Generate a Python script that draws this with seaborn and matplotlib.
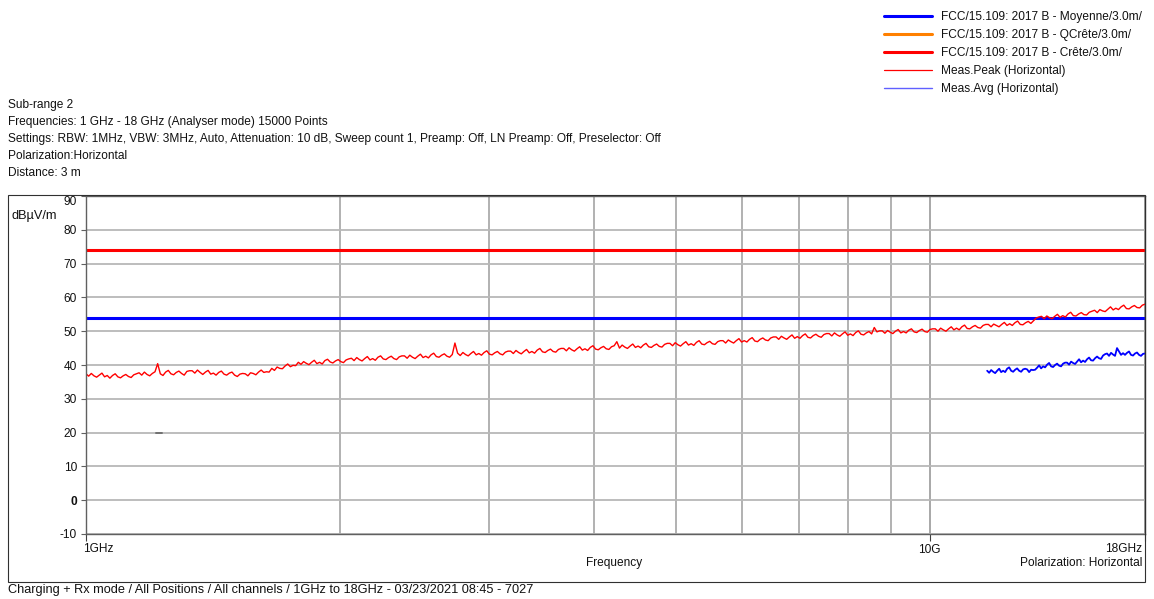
import numpy as np
import pandas as pd
import seaborn as sns
import matplotlib.pyplot as plt
from matplotlib.lines import Line2D
from matplotlib.patches import Rectangle
from matplotlib.ticker import LogLocator, NullFormatter

W, H = 1154, 599

# sweep / limits
f_start, f_stop = 1.0, 18.0      # GHz
avg_start = 11.7                 # GHz, where the average trace begins
peak_limit = 74.0                # dBuV/m, FCC 15.109 class B peak @3m
avg_limit = 54.0                 # dBuV/m, FCC 15.109 class B average @3m

# Meas.Peak (Horizontal), log spaced 1..18 GHz
peak_db = [
    37.4, 36.7, 37.5, 36.8, 36.4, 37.0, 37.6, 36.5, 36.9, 36.1,
    36.9, 37.4, 36.5, 36.2, 36.8, 37.2, 36.6, 36.3, 37.1, 37.4,
    37.7, 37.0, 37.9, 37.2, 36.8, 37.5, 38.0, 40.4, 37.4, 36.9,
    37.9, 38.4, 37.4, 37.1, 37.8, 38.2, 37.5, 37.0, 38.1, 38.3,
    38.3, 37.6, 38.5, 37.8, 37.2, 37.9, 38.4, 37.3, 37.6, 37.0,
    37.8, 38.2, 37.3, 37.0, 37.6, 37.9, 37.0, 36.6, 37.3, 37.5,
    37.4, 36.8, 37.7, 37.5, 37.1, 37.9, 38.5, 37.8, 38.0, 37.9,
    39.0, 38.4, 39.4, 39.0, 38.9, 39.7, 40.3, 39.5, 39.9, 39.8,
    40.8, 40.2, 41.0, 40.5, 40.1, 40.8, 41.4, 40.4, 40.8, 40.3,
    41.3, 41.7, 40.9, 40.6, 41.2, 41.6, 41.0, 40.7, 41.5, 41.8,
    42.0, 41.3, 42.2, 41.6, 41.2, 41.9, 42.5, 41.5, 41.9, 41.4,
    42.3, 42.7, 41.8, 41.6, 42.2, 42.6, 41.9, 41.6, 42.4, 42.7,
    42.7, 42.0, 42.9, 42.3, 41.9, 42.6, 43.2, 42.2, 42.6, 42.1,
    43.0, 43.5, 42.5, 42.3, 42.9, 43.3, 42.6, 42.3, 43.1, 46.5,
    43.5, 42.8, 43.7, 43.1, 42.7, 43.4, 44.0, 43.0, 43.4, 42.9,
    43.7, 44.2, 43.2, 43.0, 43.6, 44.0, 43.3, 43.0, 43.8, 44.1,
    44.1, 43.4, 44.3, 43.7, 43.3, 44.0, 44.6, 43.6, 44.0, 43.5,
    44.4, 44.9, 43.9, 43.7, 44.3, 44.7, 44.0, 43.8, 44.6, 44.9,
    44.9, 44.2, 45.1, 44.5, 44.1, 44.8, 45.4, 44.4, 44.8, 44.3,
    45.2, 45.7, 44.7, 44.5, 45.1, 45.5, 44.8, 44.6, 45.4, 45.7,
    46.9, 45.0, 45.9, 45.3, 44.9, 45.6, 46.2, 45.2, 45.6, 45.1,
    45.9, 46.4, 45.4, 45.2, 45.8, 46.2, 45.5, 45.3, 46.1, 46.4,
    46.4, 45.7, 46.6, 46.0, 45.6, 46.3, 46.9, 45.9, 46.3, 45.8,
    46.7, 47.2, 46.2, 46.0, 46.6, 47.0, 46.3, 46.1, 46.9, 47.2,
    47.2, 46.5, 47.4, 46.9, 46.5, 47.2, 47.8, 46.8, 47.2, 46.8,
    47.6, 48.1, 47.1, 46.9, 47.6, 48.0, 47.4, 47.2, 48.0, 48.3,
    48.3, 47.6, 48.5, 48.0, 47.6, 48.3, 48.9, 47.9, 48.4, 47.9,
    48.7, 49.2, 48.2, 48.0, 48.7, 49.1, 48.5, 48.2, 49.0, 49.3,
    49.3, 48.6, 49.5, 48.9, 48.5, 49.2, 49.8, 48.8, 49.2, 48.7,
    49.6, 50.1, 49.1, 48.9, 49.5, 49.9, 49.2, 51.1, 49.8, 50.1,
    50.1, 49.4, 50.2, 49.7, 49.3, 50.0, 50.5, 49.5, 49.9, 49.5,
    50.3, 50.7, 49.8, 49.6, 50.2, 50.6, 49.9, 49.7, 50.5, 50.7,
    50.7, 50.0, 50.9, 50.4, 50.0, 50.7, 51.3, 50.4, 50.9, 50.4,
    51.3, 51.8, 50.8, 50.7, 51.3, 51.7, 51.1, 50.9, 51.7, 52.0,
    52.0, 51.3, 52.1, 51.7, 51.3, 52.0, 52.6, 51.7, 52.2, 51.7,
    52.5, 53.0, 52.0, 51.9, 52.5, 52.9, 52.3, 53.1, 53.9, 54.2,
    54.4, 53.7, 54.5, 54.0, 53.7, 54.4, 55.0, 54.1, 54.6, 54.2,
    55.1, 55.6, 54.6, 54.5, 55.1, 55.5, 54.9, 54.8, 55.6, 55.9,
    56.2, 55.5, 56.4, 56.0, 55.8, 56.5, 57.2, 56.3, 56.8, 56.4,
    57.2, 57.7, 56.7, 56.6, 57.2, 57.6, 57.0, 56.9, 57.7, 58.0,
]

# Meas.Avg (Horizontal), log spaced 11.7..18 GHz
avg_db = [
    38.3, 37.7, 38.5, 38.0, 37.6, 38.3, 38.9, 37.9, 38.3, 37.9,
    38.9, 39.3, 38.3, 38.0, 38.6, 39.0, 38.3, 38.0, 38.7, 38.9,
    38.7, 37.9, 38.6, 38.5, 38.6, 39.2, 39.9, 39.0, 39.6, 39.3,
    40.1, 40.6, 39.6, 39.4, 40.0, 40.4, 39.8, 39.6, 40.4, 40.7,
    40.7, 40.1, 41.0, 40.6, 40.3, 41.0, 41.7, 40.8, 41.3, 40.9,
    41.7, 42.2, 41.4, 41.3, 42.0, 42.5, 42.0, 41.8, 42.8, 43.2,
    43.4, 42.7, 43.6, 43.1, 42.7, 45.0, 44.0, 43.0, 43.5, 43.0,
    43.6, 44.0, 43.0, 42.8, 43.4, 43.7, 43.0, 42.7, 43.3, 43.4,
]

# small grey marker on the 20 dB line
marker_freq = [1.21, 1.232]
marker_db = [20.0, 20.0]

peak_freq = np.geomspace(f_start, f_stop, len(peak_db))
avg_freq = np.geomspace(avg_start, f_stop, len(avg_db))
limits = pd.DataFrame({"freq": [f_start, f_stop],
                       "peak": [peak_limit] * 2,
                       "avg": [avg_limit] * 2})

sns.set_theme(style="white")
plt.rcParams["font.family"] = ["Liberation Sans", "DejaVu Sans"]
FS = 8.6
TXT = "#111111"

fig = plt.figure(figsize=(W / 100, H / 100), dpi=100)
ax = fig.add_axes([86 / W, 1 - 534 / H, (1145 - 86) / W, (534 - 196) / H])
ax.set_xscale("log")

sns.lineplot(data=limits, x="freq", y="avg", color="#0000ff", lw=2.2, ax=ax)
sns.lineplot(data=limits, x="freq", y="peak", color="#ff0000", lw=2.2, ax=ax)
sns.lineplot(x=peak_freq, y=peak_db, color="#ff0000", lw=1.0,
             estimator=None, sort=False, ax=ax)
sns.lineplot(x=avg_freq, y=avg_db, color="#0000ff", lw=1.3,
             estimator=None, sort=False, ax=ax)
sns.lineplot(x=marker_freq, y=marker_db, color="#707070", lw=1.4,
             estimator=None, ax=ax)

ax.set_xlim(f_start, f_stop)
ax.set_ylim(-10, 90)
ax.set_xlabel("")
ax.set_ylabel("")

ax.set_yticks(range(-10, 91, 10))
ax.set_yticklabels([str(v) for v in range(-10, 91, 10)], fontsize=FS, color=TXT)
for lab in ax.get_yticklabels():
    if lab.get_text() == "0":
        lab.set_fontweight("bold")
    if lab.get_text() == "90":
        lab.set_va("top")

# 1GHz and 18GHz are written as free text below, only 10G sits on its tick
ax.set_xticks([1, 10, 18])
ax.set_xticklabels(["", "10G", ""], fontsize=FS, color=TXT)
ax.xaxis.get_major_ticks()[2].tick1line.set_visible(False)
ax.xaxis.set_minor_locator(LogLocator(base=10, subs=range(2, 10)))
ax.xaxis.set_minor_formatter(NullFormatter())

ax.tick_params(axis="y", which="major", left=True, direction="out", length=3.6,
               width=0.8, color="#606060", pad=3)
ax.tick_params(axis="x", which="major", bottom=True, direction="out", length=5,
               width=0.8, color="#404040", pad=2)
ax.tick_params(axis="x", which="minor", bottom=False, length=0)

ax.grid(False)
ax.yaxis.grid(True, color="#b8b8b8", lw=1.3)
ax.xaxis.grid(True, which="major", color="#9a9a9a", lw=1.2)
ax.xaxis.grid(True, which="minor", color="#a4a4a4", lw=1.2)
ax.set_axisbelow(True)
for s in ax.spines.values():
    s.set_color("#606060")
    s.set_linewidth(1.0)

# outer frame round the chart
fig.add_artist(Rectangle((8 / W, 1 - 582 / H), (1145 - 8) / W, (582 - 195) / H,
                         transform=fig.transFigure, fill=False, ec="#303030", lw=0.8))


def ft(x, y, s, size=FS, **kw):
    fig.text(x / W, 1 - y / H, s, fontsize=size, color=TXT, va="center", **kw)


header = [
    "Sub-range 2",
    "Frequencies: 1 GHz - 18 GHz (Analyser mode) 15000 Points",
    "Settings: RBW: 1MHz, VBW: 3MHz, Auto, Attenuation: 10 dB, Sweep count 1, "
    "Preamp: Off, LN Preamp: Off, Preselector: Off",
    "Polarization:Horizontal",
    "Distance: 3 m",
]
for y, s in zip([105, 122, 139, 156, 173], header):
    ft(8, y, s)

ft(11, 216, "dBµV/m", size=9.2)
ft(83, 549, "1GHz")
ft(1142, 549, "18GHz", ha="right")
ft(614, 563, "Frequency", ha="center")
ft(1142, 563, "Polarization: Horizontal", ha="right")
ft(8, 590, "Charging + Rx mode / All Positions / All channels / 1GHz to 18GHz - "
           "03/23/2021 08:45 - 7027", size=9.2)

handles = [
    Line2D([], [], color="#0000ff", lw=2.2),
    Line2D([], [], color="#ff8000", lw=2.2),
    Line2D([], [], color="#ff0000", lw=2.2),
    Line2D([], [], color="#ff0000", lw=0.9),
    Line2D([], [], color="#6060ff", lw=1.0),
]
labels = [
    "FCC/15.109: 2017 B - Moyenne/3.0m/",
    "FCC/15.109: 2017 B - QCrête/3.0m/",
    "FCC/15.109: 2017 B - Crête/3.0m/",
    "Meas.Peak (Horizontal)",
    "Meas.Avg (Horizontal)",
]
leg = fig.legend(handles, labels, loc="upper left",
                 bbox_to_anchor=(884 / W, 1 - 11 / H), frameon=False,
                 fontsize=FS, handlelength=4.05, handletextpad=0.72,
                 labelspacing=0.5, borderpad=0, borderaxespad=0)
for t in leg.get_texts():
    t.set_color(TXT)

fig.savefig("out.png", dpi=100)
